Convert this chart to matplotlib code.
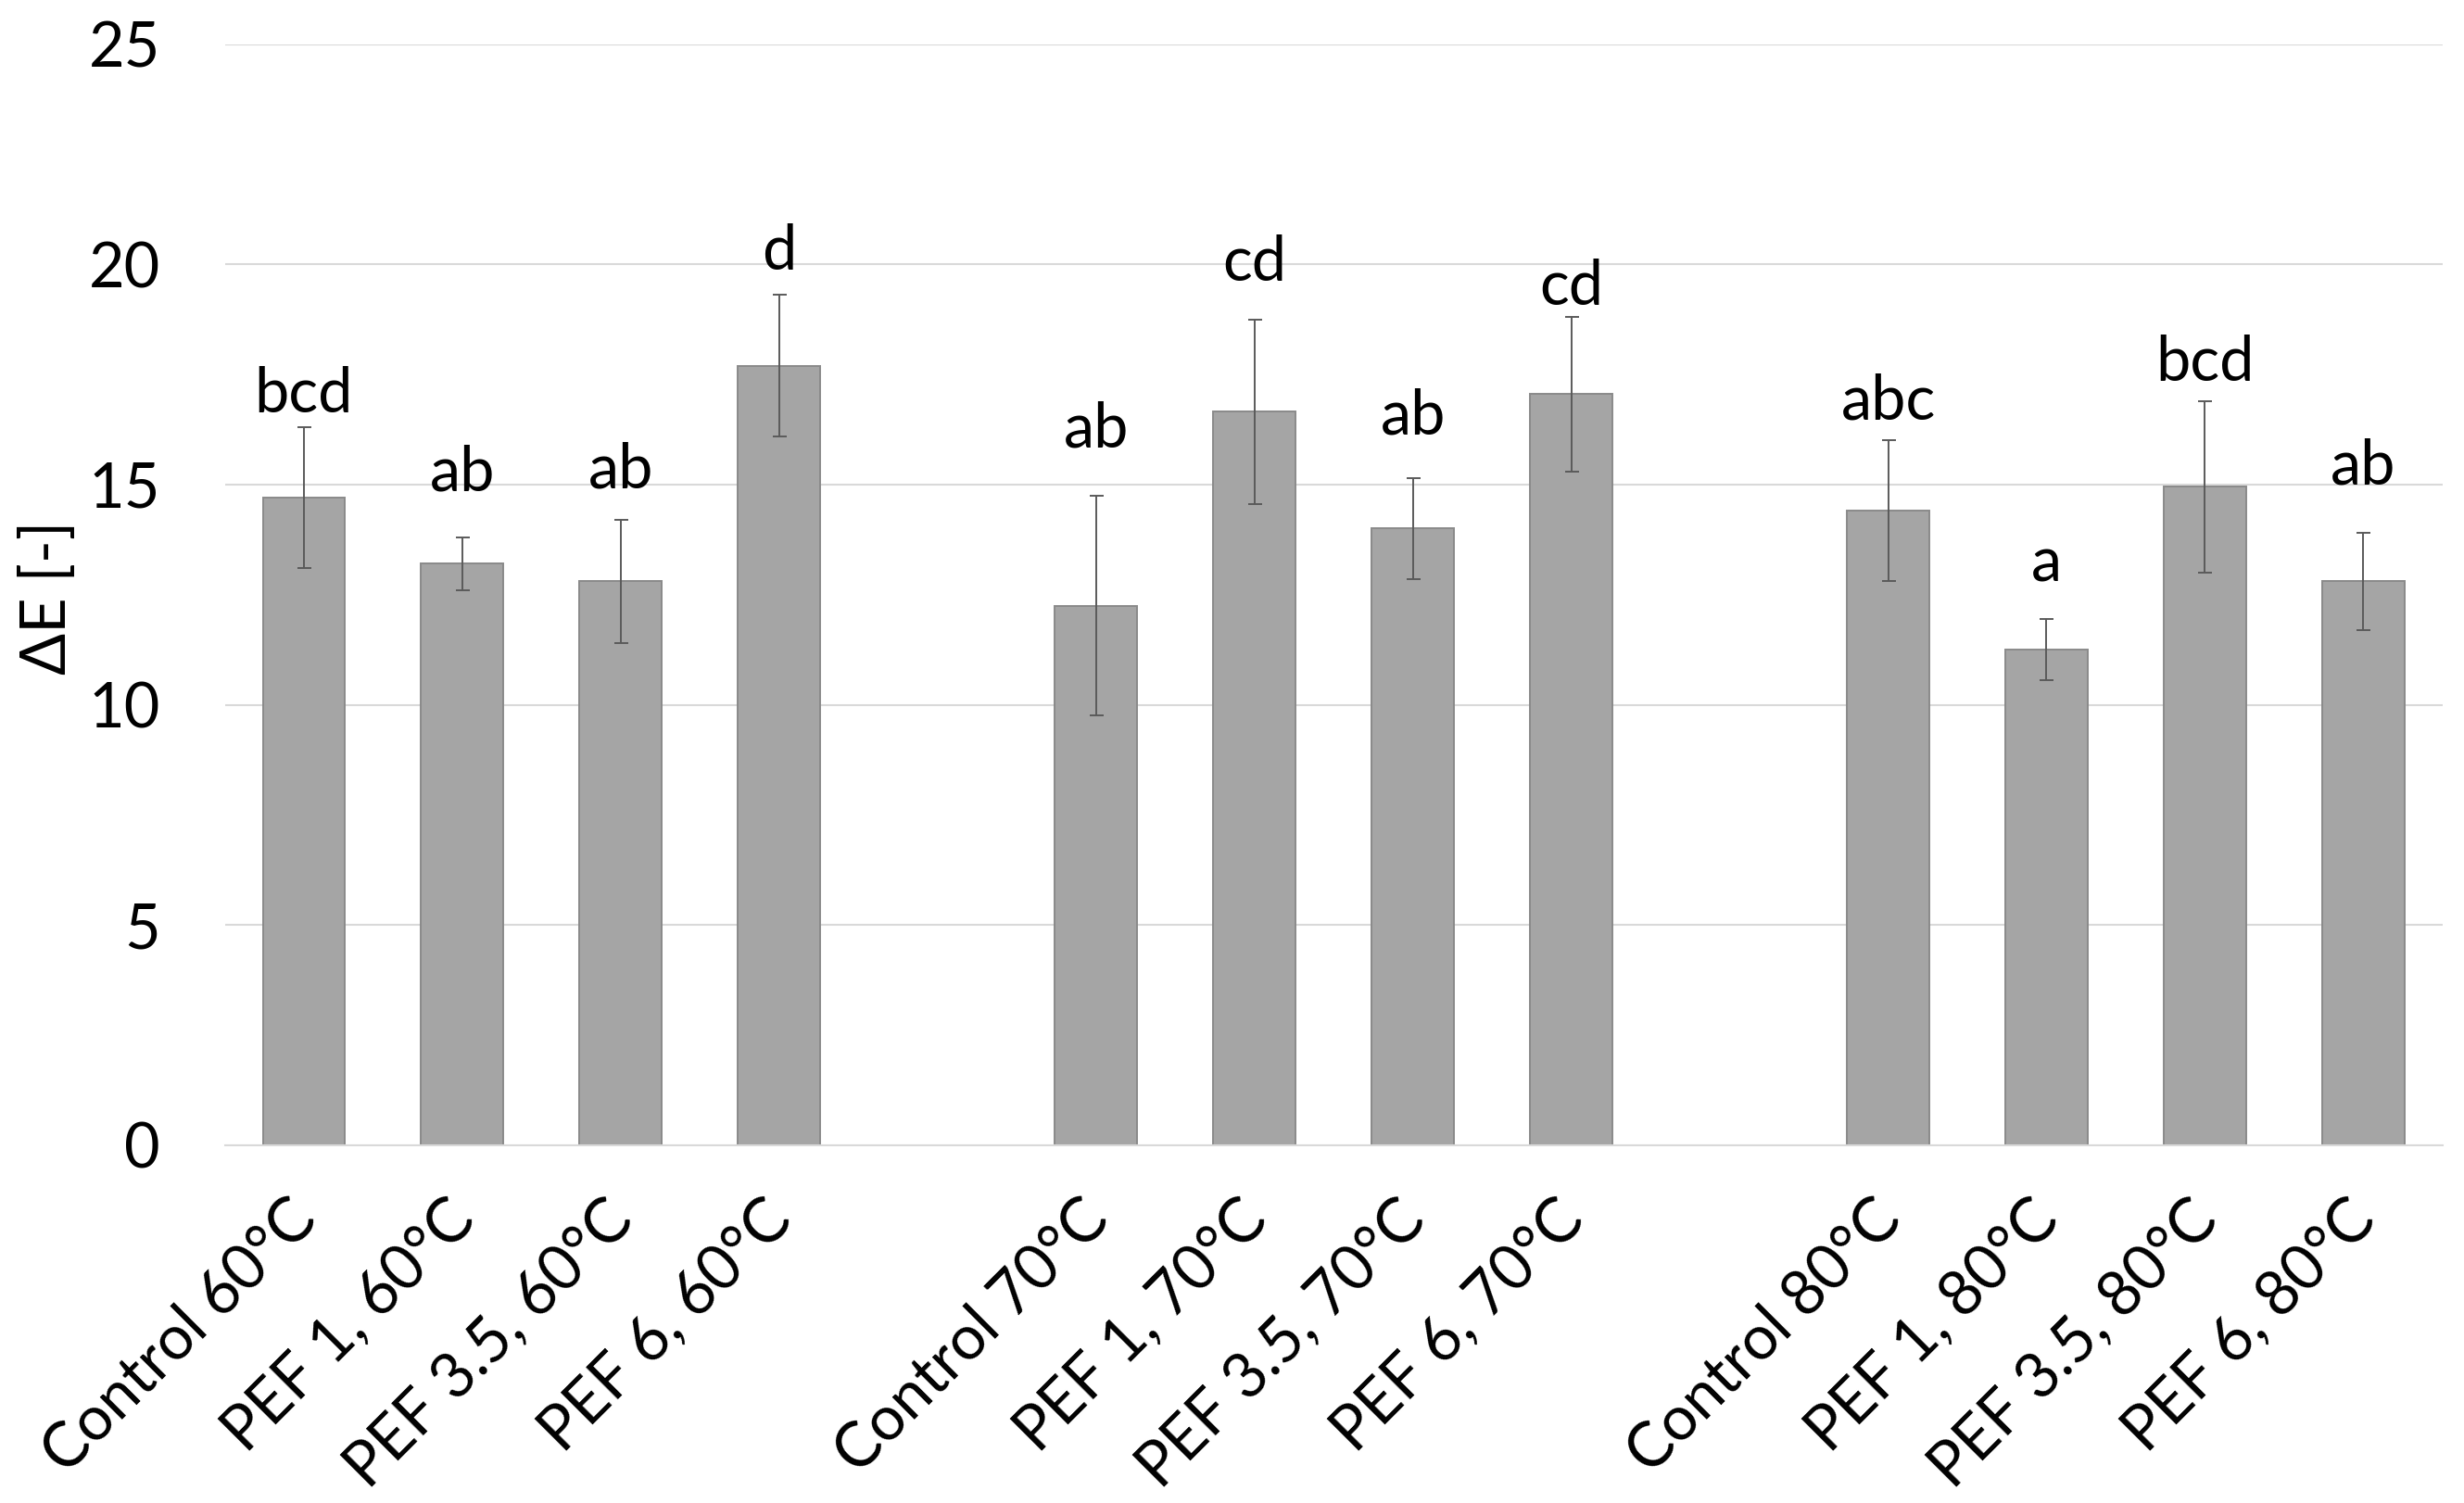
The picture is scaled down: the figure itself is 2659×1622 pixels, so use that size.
import numpy as np
import matplotlib.pyplot as plt
from matplotlib.transforms import ScaledTranslation

plt.rcParams['font.family'] = ['Lato', 'DejaVu Sans']

# --- data ---
temperatures = ['60°C', '70°C', '80°C']
treatments = ['Control', 'PEF 1,', 'PEF 3.5,', 'PEF 6,']
mean_dE = [14.7, 13.2, 12.8, 17.7,
           12.25, 16.65, 14.0, 17.05,
           14.4, 11.25, 14.95, 12.8]
sd_dE = [1.6, 0.6, 1.4, 1.6,
         2.5, 2.1, 1.15, 1.75,
         1.6, 0.7, 1.95, 1.1]
letters = ['bcd', 'ab', 'ab', 'd',
           'ab', 'cd', 'ab', 'cd',
           'abc', 'a', 'bcd', 'ab']

# gap between error bar top and letter (in data units), as placed in the original
letter_gap = [0.33, 1.06, 0.73, 0.58, 1.09, 0.88, 0.99, 0.27, 0.48, 0.85, 0.46, 1.10]

FS = 48

fig = plt.figure(figsize=(26.59, 16.22), dpi=100)
ax = fig.add_axes([0.0912, 0.238, 0.9001, 0.7327])

# one empty slot between each temperature group
x = []
tick_labels = []
for g, temp in enumerate(temperatures):
    for i, tr in enumerate(treatments):
        x.append(g * 5 + i)
        tick_labels.append(f'{tr} {temp}')
x = np.array(x)

ax.bar(x, mean_dE, width=0.52, color='#a5a5a5', edgecolor='#8a8a8a',
       linewidth=1.4, zorder=2)
ax.errorbar(x, mean_dE, yerr=sd_dE, fmt='none', ecolor='#5a5a5a',
            elinewidth=1.4, capsize=5.4, capthick=1.4, zorder=3)

for xi, m, s, lab, gap in zip(x, mean_dE, sd_dE, letters, letter_gap):
    ax.text(xi, m + s + gap, lab, ha='center', va='baseline', fontsize=FS)

ax.set_xlim(-0.5, 13.5)
ax.set_ylim(0, 25)
ax.set_yticks(range(0, 26, 5))
ax.yaxis.grid(True, color='#d9d9d9', linewidth=1.5)
ax.set_axisbelow(True)

for side in ['left', 'right', 'top']:
    ax.spines[side].set_visible(False)
ax.spines['bottom'].set_color('#d9d9d9')
ax.spines['bottom'].set_linewidth(1.5)

ax.tick_params(axis='y', length=0, pad=50, labelsize=FS)
ax.tick_params(axis='x', length=0, pad=0, labelsize=FS)
ax.set_xticks(x)
ax.set_xticklabels(tick_labels, rotation=45, ha='right', va='center',
                   rotation_mode='anchor')
offset = ScaledTranslation(0.03, -0.70, fig.dpi_scale_trans)
for t in ax.get_xticklabels():
    t.set_transform(t.get_transform() + offset)

fig.text(52 / 2659, 1 - 645 / 1622, 'ΔE [-]', rotation=90, ha='center',
         va='center', fontsize=FS)

fig.savefig('out.png', dpi=100)
